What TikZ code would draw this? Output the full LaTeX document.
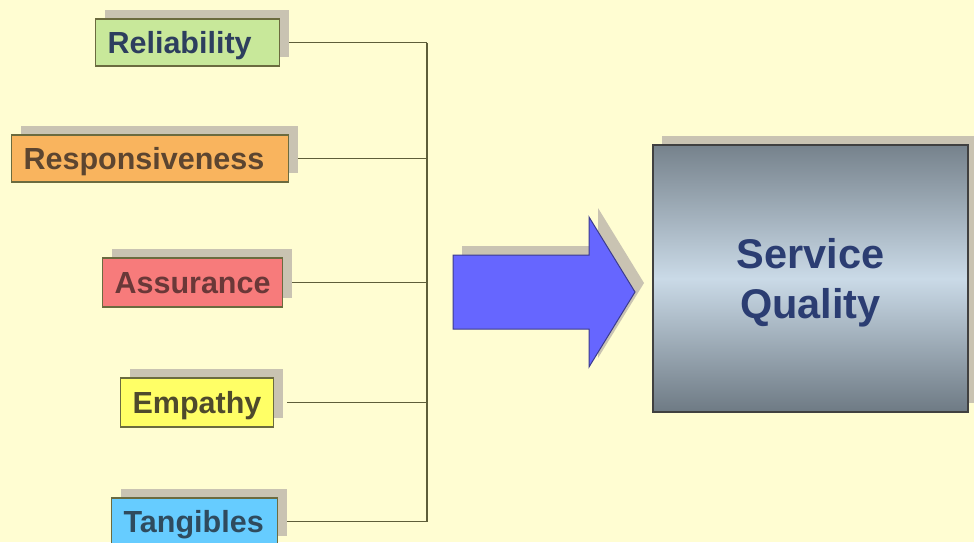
\documentclass[tikz,border=0pt]{standalone}
\usepackage{fontspec}
\setmainfont{Liberation Sans}
\usepackage{tikz}
\usetikzlibrary{shadows}
\usetikzlibrary{calc}

\definecolor{pagebg}{HTML}{FFFDD2}
\definecolor{shadowgray}{HTML}{C9C3B2}
\definecolor{boxline}{HTML}{6B6B3F}
\definecolor{wirecol}{HTML}{5E5E3A}
\definecolor{relfill}{HTML}{C8E89A}
\definecolor{reltext}{HTML}{2D3E5E}
\definecolor{resfill}{HTML}{F9B45E}
\definecolor{restext}{HTML}{5C4530}
\definecolor{assfill}{HTML}{F77B7B}
\definecolor{asstext}{HTML}{6A3838}
\definecolor{empfill}{HTML}{FFFF66}
\definecolor{emptext}{HTML}{4E4A2C}
\definecolor{tanfill}{HTML}{66CCFF}
\definecolor{tantext}{HTML}{2F4B5E}
\definecolor{arrowfill}{HTML}{6666FF}
\definecolor{arrowline}{HTML}{3C3C8C}
\definecolor{sqtop}{HTML}{76828C}
\definecolor{sqmid}{HTML}{CADAE7}
\definecolor{sqbot}{HTML}{6E7A84}
\definecolor{sqtext}{HTML}{2B3D72}

\tikzset{
  factor/.style={draw=boxline, line width=1.2pt, anchor=west, align=left,
    inner xsep=12pt, inner ysep=0pt, minimum height=47pt,
    text height=24pt, text depth=3pt,
    font=\fontsize{30.5}{35}\selectfont\bfseries,
    general shadow={fill=shadowgray, shadow xshift=9pt, shadow yshift=9pt}},
  wire/.style={draw=wirecol, line width=1.3pt},
  sqbox/.style={draw=black!75, line width=1.2pt, minimum width=315pt, minimum height=267pt,
    top color=sqtop, bottom color=sqbot, middle color=sqmid,
    general shadow={fill=shadowgray, shadow xshift=9pt, shadow yshift=9pt}},
  sqlabel/.style={align=center, text=sqtext, font=\fontsize{41.5}{50}\selectfont\bfseries}
}

\begin{document}
\begin{tikzpicture}[x=1pt,y=-1pt]
    \fill[pagebg] (0,0) rectangle (974,542);
    \useasboundingbox (0,0) rectangle (974,542);
    \clip (0,0) rectangle (974,542);
    % the five dimensions
    \node[factor, fill=relfill, text=reltext, text width=160pt] (rel) at (95,42.5) {Reliability};
    \node[factor, fill=resfill, text=restext, text width=253pt] (res) at (11,158.5) {Responsiveness};
    \node[factor, fill=assfill, text=asstext, text width=156pt, minimum height=49pt] (ass) at (102,282.5) {Assurance};
    \node[factor, fill=empfill, text=emptext, text width=129pt, minimum height=49pt] (emp) at (120,402.5) {Empathy};
    \node[factor, fill=tanfill, text=tantext, text width=142pt] (tan) at (111,521.5) {Tangibles};
    \coordinate (bus) at (427,0);
    \draw[wire] ([xshift=9pt]rel.east) -- (rel.east -| bus);
    \draw[wire] ([xshift=9pt]res.east) -- (res.east -| bus);
    \draw[wire] ([xshift=9pt]ass.east) -- (ass.east -| bus);
    \draw[wire] ([xshift=13pt]emp.east) -- (emp.east -| bus);
    \draw[wire] ([xshift=9pt]tan.east) -- (tan.east -| bus);
    \draw[wire] (rel.east -| bus) -- (tan.east -| bus);
    % big arrow
    \fill[shadowgray, xshift=9pt, yshift=9pt] (453,255) -- (589,255) -- (589,217) -- (635,292)
      -- (589,367) -- (589,329) -- (453,329) -- cycle;
    \filldraw[fill=arrowfill, draw=arrowline, line width=1pt] (453,255) -- (589,255) -- (589,217)
      -- (635,292) -- (589,367) -- (589,329) -- (453,329) -- cycle;
    % result
    \node[sqbox] (sq) at (810.5,278.5) {};
    \node[sqlabel] (sqtxt) at ([yshift=-4pt]sq.center) {Service\\Quality};
\end{tikzpicture}
\end{document}
